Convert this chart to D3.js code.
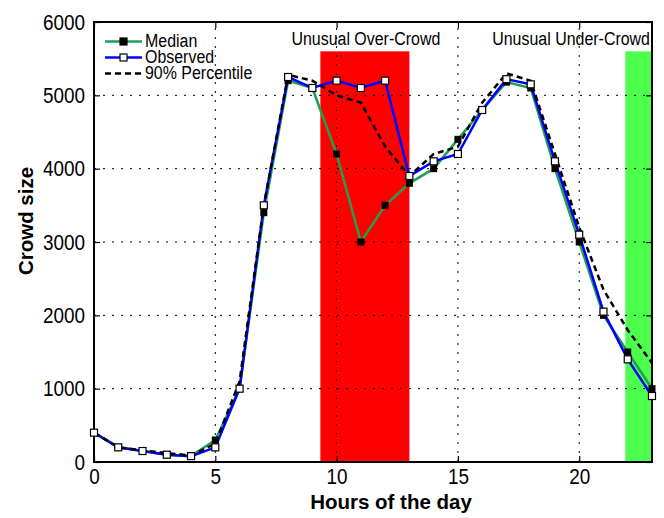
<!DOCTYPE html>
<html><head><meta charset="utf-8">
<script src="https://cdn.jsdelivr.net/npm/d3@7"></script>
<style>body{margin:0;background:#fff;} svg{display:block;font-family:"Liberation Sans",Arial,sans-serif;}</style>
</head><body>
<script>
const hours = d3.range(0, 24);
const median   = [400,200,150,100,80,300,1000,3400,5200,5100,4200,3000,3500,3800,4000,4400,4800,5180,5100,4000,3000,2000,1500,1000];
const observed = [400,200,150,100,80,200,1000,3500,5250,5100,5200,5100,5200,3900,4100,4200,4800,5220,5150,4100,3100,2050,1400,900];
const pct90    = [400,200,160,120,90,250,1100,3500,5280,5200,5000,4900,4300,3900,4200,4300,4900,5300,5200,4200,3200,2350,1800,1350];
const xTicks = [0,5,10,15,20];
const yTicks = [0,1000,2000,3000,4000,5000,6000];
const bands = [
  {label:"Unusual Over-Crowd", x0:9.33, x1:13, top:5600, color:"#ff0000"},
  {label:"Unusual Under-Crowd", x0:21.9, x1:23, top:5600, color:"#4dff4d"}
];
const seriesNames = ["Median","Observed","90% Percentile"];

const W=664,H=518;
const m={l:94,r:12,t:22,b:56};
const SX=0.84;
const svg=d3.select("body").append("svg").attr("width",W).attr("height",H);
const x=d3.scaleLinear().domain([0,23]).range([m.l,W-m.r]);
const y=d3.scaleLinear().domain([0,6000]).range([H-m.b,m.t]);

function ctext(px,py,txt,size,anchor){
  return svg.append("text").attr("transform",`translate(${px},${py}) scale(${SX},1)`)
    .attr("text-anchor",anchor||"start").attr("font-size",size).attr("fill","#000").text(txt);
}

// bands
svg.selectAll("rect.band").data(bands).enter().append("rect")
  .attr("x",d=>x(d.x0)).attr("width",d=>x(d.x1)-x(d.x0))
  .attr("y",d=>y(d.top)).attr("height",d=>y(0)-y(d.top)).attr("fill",d=>d.color);

// grid
const g=svg.append("g").attr("stroke","#000").attr("stroke-width",1).attr("stroke-dasharray","2,7");
xTicks.forEach(t=>{ if(t>0) g.append("line").attr("x1",x(t)).attr("x2",x(t)).attr("y1",y(0)).attr("y2",y(6000)); });
yTicks.forEach(t=>{ if(t>0 && t<6000) g.append("line").attr("x1",x(0)).attr("x2",x(23)).attr("y1",y(t)).attr("y2",y(t)); });

// axes
const TS=0.86;
const ax=d3.axisBottom(x).tickValues(xTicks).tickSize(-6).tickPadding(6).tickFormat(d3.format("d"));
const ay=d3.axisLeft(y).tickValues(yTicks).tickSize(-6).tickPadding(9).tickFormat(d3.format("d"));
const gx=svg.append("g").attr("transform",`translate(0,${y(0)})`).call(ax);
const gy=svg.append("g").attr("transform",`translate(${x(0)},0)`).call(ay);
svg.append("g").attr("transform",`translate(0,${y(6000)})`).call(d3.axisTop(x).tickValues(xTicks).tickSize(-6).tickFormat(""));
svg.append("g").attr("transform",`translate(${x(23)},0)`).call(d3.axisRight(y).tickValues(yTicks).tickSize(-6).tickFormat(""));
svg.selectAll(".domain").remove();
svg.selectAll(".tick line").attr("stroke","#000").attr("stroke-width",1.2);
[gx,gy].forEach(a=>a.selectAll("text").attr("font-size",22).attr("fill","#000")
  .attr("font-family","Liberation Sans, Arial, sans-serif")
  .attr("transform",`scale(${TS},1)`)
  .attr("x",function(){ return (+d3.select(this).attr("x")||0)/TS; }));
svg.append("rect").attr("x",x(0)).attr("y",y(6000)).attr("width",x(23)-x(0)).attr("height",y(0)-y(6000))
  .attr("fill","none").attr("stroke","#000").attr("stroke-width",2);

// band labels
ctext((x(bands[0].x0)+x(bands[0].x1))/2+1,45,bands[0].label,19,"middle");
ctext(x(23)-2,45,bands[1].label,19,"end");

const line=d3.line().x((d,i)=>x(hours[i])).y(d=>y(d));
svg.append("path").datum(median).attr("d",line).attr("fill","none").attr("stroke","#1ea04f").attr("stroke-width",2.5);
svg.append("path").datum(observed).attr("d",line).attr("fill","none").attr("stroke","#0000ff").attr("stroke-width",2.5);
svg.append("path").datum(pct90).attr("d",line).attr("fill","none").attr("stroke","#000").attr("stroke-width",2.5).attr("stroke-dasharray","6,4");
const s=7;
svg.selectAll("rect.med").data(median).enter().append("rect").attr("x",(d,i)=>x(hours[i])-s/2).attr("y",d=>y(d)-s/2).attr("width",s).attr("height",s).attr("fill","#000");
svg.selectAll("rect.obs").data(observed).enter().append("rect").attr("x",(d,i)=>x(hours[i])-s/2).attr("y",d=>y(d)-s/2).attr("width",s).attr("height",s).attr("fill","#fff").attr("stroke","#000").attr("stroke-width",1.2);

// legend
const lg=svg.append("g");
const rows=[{c:"#1ea04f",mk:"fill",dash:null},{c:"#0000ff",mk:"open",dash:null},{c:"#000",mk:null,dash:"6,4"}];
rows.forEach((r,i)=>{
  const yy=41.5+i*16;
  lg.append("line").attr("x1",105).attr("x2",142).attr("y1",yy).attr("y2",yy).attr("stroke",r.c).attr("stroke-width",2.5).attr("stroke-dasharray",r.dash);
  if(r.mk) lg.append("rect").attr("x",123.5-s/2).attr("y",yy-s/2).attr("width",s).attr("height",s)
    .attr("fill",r.mk==="fill"?"#000":"#fff").attr("stroke","#000").attr("stroke-width",1.2);
  ctext(145,yy+5.5,seriesNames[i],19,"start");
});

// axis titles
svg.append("text").attr("x",391).attr("y",509).attr("text-anchor","middle").attr("font-size",20.5).attr("font-weight","bold").text("Hours of the day");
svg.append("text").attr("transform",`translate(33,221) rotate(-90)`).attr("text-anchor","middle").attr("font-size",20.5).attr("font-weight","bold").text("Crowd size");
</script>
</body></html>
